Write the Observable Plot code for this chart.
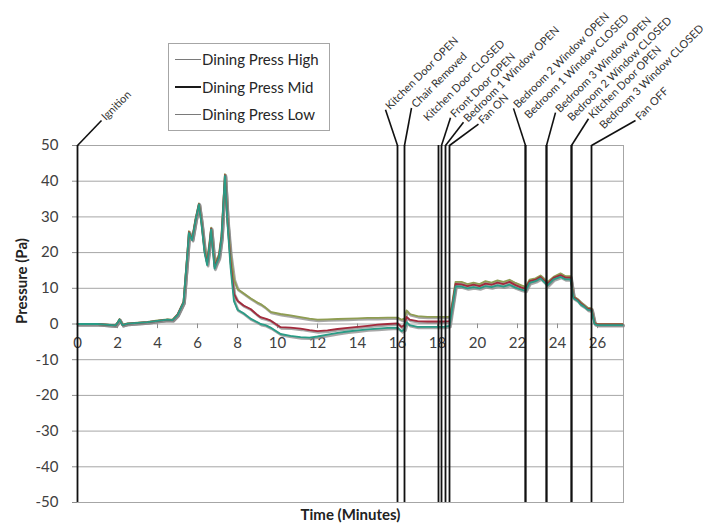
<!DOCTYPE html>
<html>
<head>
<meta charset="utf-8">
<script src="https://cdn.jsdelivr.net/npm/d3@7"></script>
<script src="https://cdn.jsdelivr.net/npm/@observablehq/plot@0.6"></script>
<style>
  html, body { margin: 0; padding: 0; background: #fff; }
  #wrap { position: relative; width: 709px; height: 531px; font-family: Lato, "Open Sans", sans-serif; }
  #legend { position: absolute; left: 168px; top: 43px; width: 162px; height: 88px;
    border: 1px solid #a6a6a6; background: #fff; box-sizing: border-box; }
  .item { position: absolute; left: 6px; height: 18px; display: flex; align-items: center;
    font-size: 15px; color: #262626; }
  .sw { width: 26px; height: 0; margin-right: 1px; }
</style>
</head>
<body>
<div id="wrap"><div id="chart"></div><div id="legend"></div></div>
<script>
// ---- data ----
const seriesNames = ["Dining Press High", "Dining Press Mid", "Dining Press Low"];
const times = [0, 1.0, 1.9, 2.0, 2.1, 2.25, 2.5, 3.0, 3.5, 4.0, 4.5, 4.75, 5.0, 5.3, 5.5, 5.57, 5.73, 5.9, 6.07, 6.2, 6.35, 6.48, 6.6, 6.68, 6.78, 6.85, 6.95, 7.07, 7.2, 7.37, 7.5, 7.65, 7.82, 8.0, 8.3, 8.65, 9.0, 9.15, 9.4, 9.65, 10.15, 10.65, 11.15, 11.6, 12.0, 12.5, 13.0, 13.5, 14.0, 14.5, 15.0, 15.5, 16.0, 16.2, 16.35, 16.45, 16.6, 17.0, 17.5, 18.0, 18.3, 18.6, 18.75, 18.9, 19.2, 19.5, 19.8, 20.1, 20.4, 20.7, 21.0, 21.3, 21.6, 21.9, 22.2, 22.4, 22.6, 22.9, 23.15, 23.5, 23.8, 24.15, 24.4, 24.65, 24.8, 25.0, 25.15, 25.35, 25.5, 25.7, 25.85, 26.0, 26.5, 27.0, 27.25];
const pressHigh = [0, 0, -0.3, 0.4, 1.4, -0.2, 0.2, 0.4, 0.6, 1.0, 1.3, 1.2, 2.7, 6.3, 20.5, 26, 24, 29.5, 33.8, 28.5, 21, 17.8, 23, 27, 21, 16.8, 18, 19.5, 25, 42, 29, 19.5, 12.5, 9.8, 8.6, 7.2, 6.0, 5.6, 4.6, 3.4, 2.8, 2.4, 1.9, 1.5, 1.2, 1.3, 1.4, 1.5, 1.6, 1.7, 1.7, 1.8, 1.8, 1.2, 1.5, 3.8, 2.8, 2.2, 2.0, 2.0, 2.0, 2.0, 6.5, 11.8, 11.8, 11.2, 11.6, 11.2, 12.0, 11.6, 12.2, 11.8, 12.4, 11.5, 10.8, 10.4, 12.4, 12.8, 13.6, 11.8, 13.2, 14.2, 13.4, 13.4, 7.8, 7.0, 6.2, 5.3, 4.6, 4.4, 0.4, 0, 0, 0, 0];
const pressMid = [0, 0, -0.4, 0.3, 1.3, -0.3, 0.1, 0.3, 0.5, 0.9, 1.2, 1.1, 2.6, 6.1, 20.2, 25.7, 23.7, 29.2, 33.6, 28.2, 20.4, 17, 22.4, 26.7, 20.4, 16, 17.4, 18.9, 24.4, 41.7, 28.4, 17.5, 8.5, 6.5, 5.2, 4.2, 2.5, 1.9, 1.5, 1.0, -0.9, -1.0, -1.3, -1.7, -2.0, -1.8, -1.4, -1.1, -0.8, -0.5, -0.2, 0, 0.2, -0.8, -0.3, 2.0, 1.2, 0.8, 0.7, 0.7, 0.7, 0.8, 5.8, 11.2, 11.1, 10.6, 11.0, 10.6, 11.3, 11.0, 11.6, 11.2, 11.8, 10.9, 10.2, 9.9, 12.0, 12.4, 13.2, 11.3, 12.9, 13.7, 13.0, 13.0, 7.5, 6.8, 5.9, 5.0, 4.3, 4.1, 0.2, -0.1, -0.1, -0.1, -0.1];
const pressLow = [0, 0, -0.4, 0.3, 1.3, -0.3, 0.1, 0.3, 0.5, 0.9, 1.2, 1.1, 2.5, 6, 20, 25.5, 23.5, 29, 33.5, 28, 20, 16.5, 22, 26.5, 20, 15.5, 17, 18.5, 24, 41.5, 28, 16, 6.5, 4.0, 3.0, 1.5, 0.5, 0, -0.3, -1.0, -2.8, -3.3, -3.7, -3.8, -3.5, -3.0, -2.5, -2.1, -1.8, -1.5, -1.3, -1.1, -1.0, -2.0, -1.5, 0.5, -0.3, -0.8, -0.8, -0.8, -0.8, -0.5, 5.0, 10.5, 10.5, 10.0, 10.3, 10.0, 10.6, 10.3, 10.8, 10.5, 11.0, 10.2, 9.6, 9.3, 11.5, 12.0, 12.8, 10.8, 12.5, 13.2, 12.5, 12.5, 7.2, 6.5, 5.5, 4.8, 4.0, 3.8, 0, -0.3, -0.3, -0.3, -0.3];

const eventTimes = [0, 16.0, 16.35, 18.05, 18.2, 18.4, 18.6, 22.4, 22.4, 23.45, 23.45, 24.7, 24.7, 25.7];
const eventLabels = ["Ignition", "Kitchen Door OPEN", "Chair Removed", "Kitchen Door CLOSED", "Front Door OPEN", "Bedroom 1 Window OPEN", "Fan ON", "Bedroom 2 Window OPEN", "Bedroom 1 Window CLOSED", "Bedroom 3 Window OPEN", "Bedroom 2 Window CLOSED", "Kitchen Door OPEN", "Bedroom 3 Window CLOSED", "Fan OFF"];

const xTicks = [0, 2, 4, 6, 8, 10, 12, 14, 16, 18, 20, 22, 24, 26];
const yTicks = [-50, -40, -30, -20, -10, 0, 10, 20, 30, 40, 50];

// ---- layout (label anchor points above the frame, in axis units) ----
const labelAnchorX = [1.2, 15.4, 16.7, 17.3, 18.65, 19.3, 20.05, 21.8, 22.35, 23.9, 24.5, 25.55, 26.1, 27.9];
const labelAnchorY = [57, 60, 60.5, 56.8, 57.8, 56.5, 56, 60.4, 57.5, 59.2, 56.8, 57.5, 54.6, 57];
const leaderOn = [true, true, true, false, true, true, true, true, false, true, false, true, false, true];

const colors = ["#8f9d52", "#a32a3c", "#2a9c86"];
const legendSwatch = ["#7a7a7a", "#1a1a1a", "#7a7a7a"];

const rows = [];
[pressHigh, pressMid, pressLow].forEach((arr, s) => {
  arr.forEach((v, i) => rows.push({series: seriesNames[s], t: times[i], v}));
});
const events = eventTimes.map((t, i) => ({t, label: eventLabels[i], lx: labelAnchorX[i], ly: labelAnchorY[i], leader: leaderOn[i]}));

const font = "Lato, 'Open Sans', sans-serif";

const chart = Plot.plot({
  width: 709,
  height: 531,
  marginLeft: 77,
  marginRight: 86,
  marginTop: 145,
  marginBottom: 29,
  style: {fontFamily: font, background: "#fff", overflow: "visible"},
  x: {domain: [0, 27.3], axis: null},
  y: {domain: [-50, 50], axis: null},
  color: {domain: seriesNames, range: colors},
  marks: [
    Plot.ruleY(yTicks, {stroke: "#a6a6a6", strokeWidth: 1}),
    Plot.frame({stroke: "#a6a6a6"}),
    Plot.axisY({ticks: yTicks, tickSize: 5, tickPadding: 14, tickFormat: d => String(d), fontSize: 15, stroke: "#8c8c8c", fill: "#404040", label: null}),
    Plot.ruleX(xTicks, {x: d => d, y1: 0, y2: -1.3, stroke: "#8c8c8c"}),
    Plot.text(xTicks, {x: d => d, y: 0, text: d => String(d), dy: 19, fontSize: 15, fill: "#404040"}),
    // shadows
    Plot.line(rows, {x: "t", y: "v", z: "series", stroke: "#8a8a8a", strokeWidth: 2.6, strokeOpacity: 0.75, dx: 1, dy: 1.2}),
    Plot.line(rows, {x: "t", y: "v", z: "series", stroke: "series", strokeWidth: 1.8}),
    // event lines
    Plot.ruleX(events, {x: "t", stroke: "#111", strokeWidth: 1.8}),
    Plot.link(events.filter(d => d.leader), {x1: "t", y1: () => 50, x2: "lx", y2: "ly", stroke: "#111", strokeWidth: 1.6}),
    Plot.text(events, {x: "lx", y: "ly", text: "label", rotate: -45, textAnchor: "start", fontSize: 11, fill: "#333", dx: 2, dy: -2}),
    Plot.text(["Time (Minutes)"], {frameAnchor: "bottom", dy: 17, fontSize: 15, fontWeight: "bold", fill: "#222"}),
    Plot.text(["Pressure (Pa)"], {frameAnchor: "left", dx: -55, rotate: -90, fontSize: 15, fontWeight: "bold", fill: "#222"})
  ]
});
document.getElementById("chart").appendChild(chart);

const legend = document.getElementById("legend");
seriesNames.forEach((name, i) => {
  const it = document.createElement("div");
  it.className = "item";
  it.style.top = (6 + i * 27.5) + "px";
  const sw = document.createElement("span");
  sw.className = "sw";
  sw.style.borderTop = (i === 1 ? 2.5 : 1.8) + "px solid " + legendSwatch[i];
  const tx = document.createElement("span");
  tx.textContent = name;
  it.appendChild(sw); it.appendChild(tx);
  legend.appendChild(it);
});
</script>
</body>
</html>
